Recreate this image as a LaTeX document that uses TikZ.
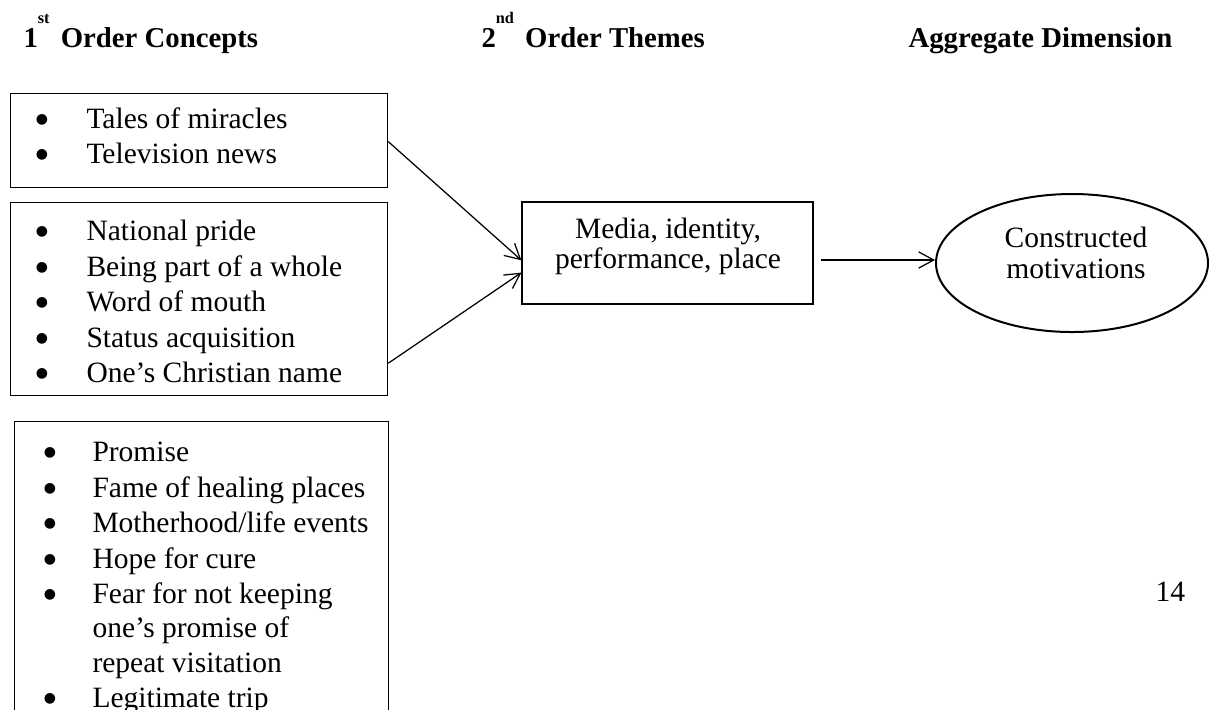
\documentclass[tikz,border=0pt]{standalone}
\usepackage{fontspec}
\setmainfont{Liberation Serif}
\newfontfamily\bulfont{DejaVu Sans}
\usetikzlibrary{arrows.meta,shapes.geometric,calc}
\newcommand{\supr}[1]{\raisebox{9.6pt}{\fontsize{6.5}{7}\selectfont #1}}
\begin{document}
\begin{tikzpicture}[x=0.4pt,y=-0.4pt,
  every node/.style={font=\fontsize{11.8}{13.8}\selectfont},
  listbox/.style={draw,line width=0.5pt,anchor=north west,inner sep=0},
  itemtxt/.style={anchor=base west,inner sep=0},
  bul/.style={anchor=center,inner sep=0,font=\bulfont\fontsize{5.6}{6}\selectfont},
  head/.style={anchor=base west,inner sep=0,font=\fontsize{11.5}{13.8}\selectfont\bfseries},
  conn/.style={line width=0.5pt,-{Straight Barb[length=6pt,width=6.5pt,line width=0.5pt]}}]
\useasboundingbox (0,0) rectangle (1211,709);
% headers
\node[head] (h1) at (23,47) {1\supr{st}\hspace{4.5pt}Order Concepts};
\node[head] (h2) at (481,47) {2\supr{nd}\hspace{4.5pt}Order Themes};
\node[head] (h3) at (908,47) {Aggregate Dimension};
% boxes
\node[listbox,minimum width=377*0.4pt,minimum height=94*0.4pt] (b1) at (10,93) {};
\node[listbox,minimum width=377*0.4pt,minimum height=193*0.4pt] (b2) at (10,202) {};
\node[listbox,minimum width=374*0.4pt,minimum height=300*0.4pt] (b3) at (14,421) {};
% box 1 items
\foreach \y/\t [count=\i] in {128/{Tales of miracles},163/{Television news}}{
  \node[bul] (b1d\i) at (42,\y-8) {●};
  \node[itemtxt] (b1t\i) at (86,\y) {\t};
}
% box 2 items
\foreach \y/\t [count=\i] in {240/{National pride},276/{Being part of a whole},311/{Word of mouth},347/{Status acquisition},382/{One’s Christian name}}{
  \node[bul] (b2d\i) at (42,\y-8) {●};
  \node[itemtxt] (b2t\i) at (86,\y) {\t};
}
% box 3 items
\node[bul] (b3d1) at (50,453) {●};
\node[itemtxt] (b3t1) at (92,461) {Promise};
\node[bul] (b3d2) at (50,489) {●};
\node[itemtxt] (b3t2) at (92,497) {Fame of healing places};
\node[bul] (b3d3) at (50,524) {●};
\node[itemtxt] (b3t3) at (92,532) {Motherhood/life events};
\node[bul] (b3d4) at (50,560) {●};
\node[itemtxt] (b3t4) at (92,568) {Hope for cure};
\node[bul] (b3d5) at (50,595) {●};
\node[itemtxt] (b3t5) at (92,603) {Fear for not keeping};
\node[itemtxt] (b3c1) at (92,637) {one’s promise of};
\node[itemtxt] (b3c2) at (92,672) {repeat visitation};
\node[bul] (b3d6) at (50,699) {●};
\node[itemtxt] (b3t6) at (92,707) {Legitimate trip};
% middle box
\node[draw,line width=0.5pt,minimum width=291*0.4pt,minimum height=102*0.4pt,inner sep=0] (mid) at (667.5,253) {};
\node[anchor=base,inner sep=0] (m1) at (668,238) {Media, identity,};
\node[anchor=base,inner sep=0] (m2) at (668,268) {performance, place};
% ellipse
\node[draw,ellipse,line width=0.8pt,minimum width=272*0.4pt,minimum height=138*0.4pt,inner sep=0] (ell) at (1072,263) {};
\node[anchor=base,inner sep=0] (e1) at (1076,247) {Constructed};
\node[anchor=base,inner sep=0] (e2) at (1076,278) {motivations};
% page number
\node[itemtxt] (pg) at (1155,601) {14};
% connectors
\coordinate (a1s) at ($(b1.north east)!0.51!(b1.south east)$);
\coordinate (a1e) at ($(mid.north west)!0.57!(mid.south west)$);
\coordinate (a2s) at ($(b2.north east)!0.83!(b2.south east)$);
\coordinate (a2e) at ($(mid.north west)!0.69!(mid.south west)$);
\coordinate (a3s) at ([xshift=2.8pt,yshift=-2.8pt]mid.east);
\draw[conn] (a1s) -- (a1e);
\draw[conn] (a2s) -- (a2e);
\draw[conn] (a3s) -- (a3s -| ell.west);
\end{tikzpicture}
\end{document}
